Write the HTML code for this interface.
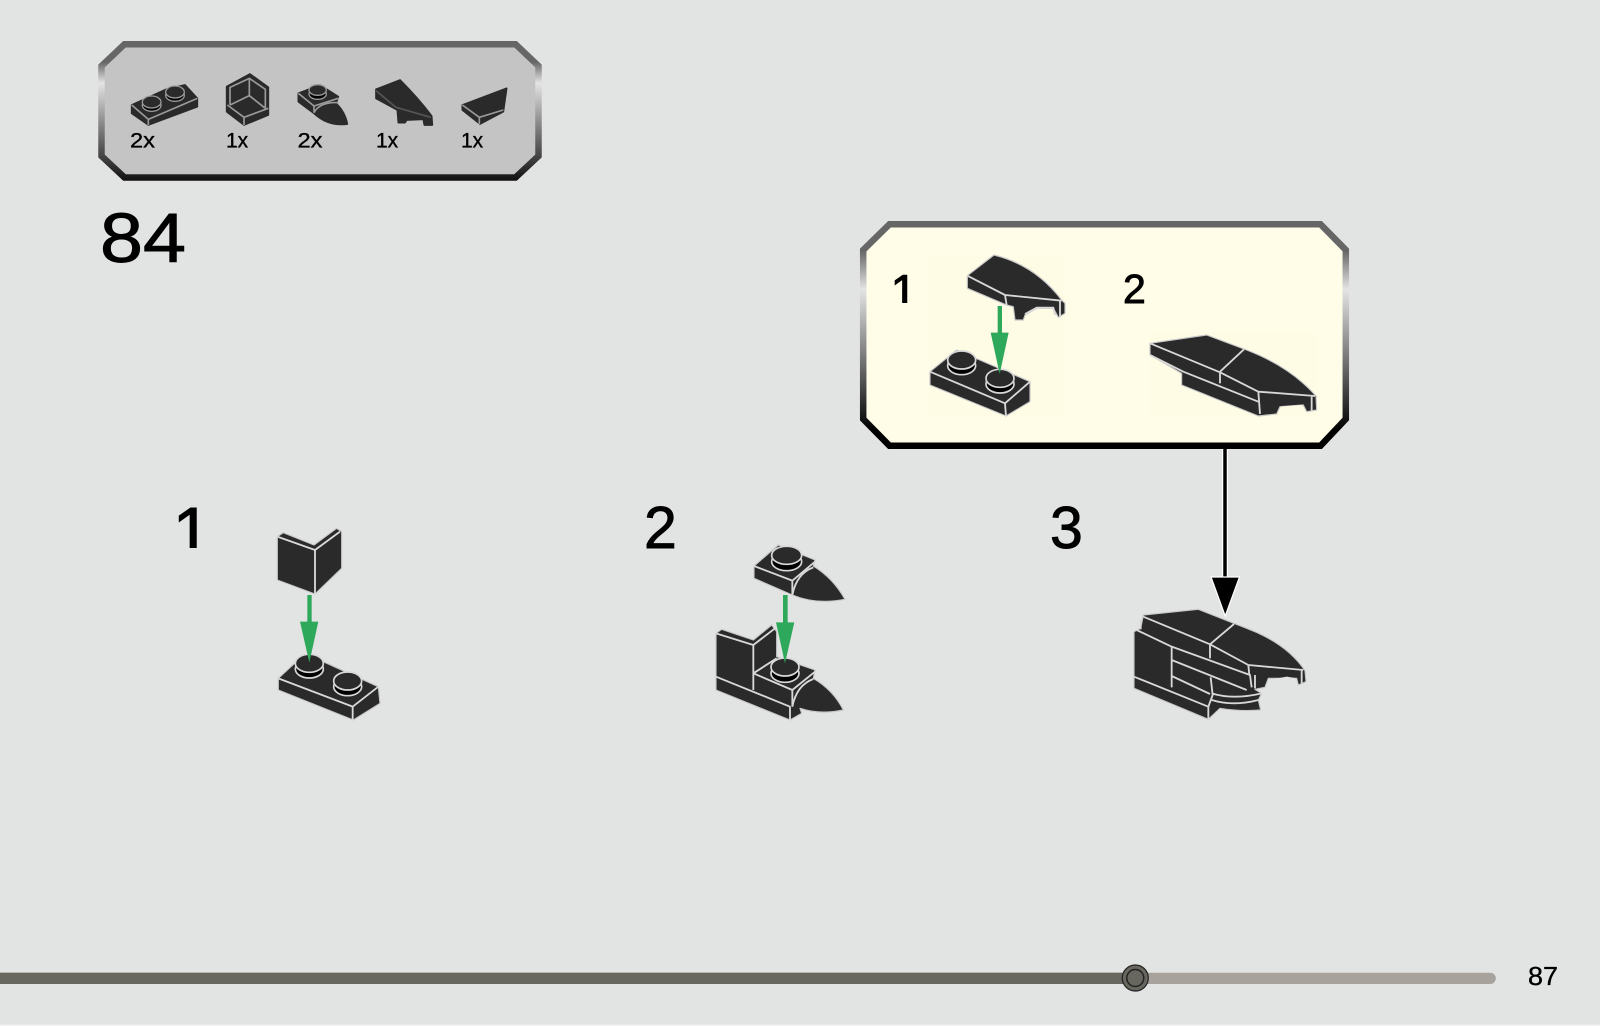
<!DOCTYPE html>
<html lang="en">
<head>
<meta charset="utf-8">
<title>Building instructions page 87</title>
<style>
html,body{margin:0;padding:0;background:#e2e4e3;width:1600px;height:1026px;overflow:hidden}
svg{display:block}
text{font-family:"Liberation Sans",sans-serif;fill:#000}
.b{fill:#2a2a2a;stroke:#c8c8c8;stroke-width:3.5;stroke-linejoin:round}
.l{fill:none;stroke:#d8d8d8;stroke-width:5.5;stroke-linejoin:round}
.s{fill:#2a2a2a;stroke:#d8d8d8;stroke-width:5}
.k{fill:#050505;stroke:#d8d8d8;stroke-width:5}
.g{fill:#2fa85a}
.p .b{stroke:#2a2a2a;stroke-width:5}
.p .l{stroke:#9a9a9a;stroke-width:5}
.p .s{stroke:#9a9a9a;stroke-width:4}
.p .k{stroke:#9a9a9a;stroke-width:4}
.h{stroke:#000;stroke-width:.9}
.m{stroke:#000;stroke-width:.35}
</style>
</head>
<body>
<svg width="1600" height="1026" viewBox="0 0 1600 1026" xmlns="http://www.w3.org/2000/svg">
<defs>
<linearGradient id="f1" gradientUnits="userSpaceOnUse" x1="0" y1="41" x2="0" y2="181">
<stop offset="0" stop-color="#666"/><stop offset=".15" stop-color="#666"/><stop offset=".3" stop-color="#e4e4e4"/><stop offset=".65" stop-color="#777"/><stop offset="1" stop-color="#111"/>
</linearGradient>
<linearGradient id="f2" gradientUnits="userSpaceOnUse" x1="0" y1="221" x2="0" y2="449">
<stop offset="0" stop-color="#666"/><stop offset=".13" stop-color="#666"/><stop offset=".3" stop-color="#e4e4e4"/><stop offset=".65" stop-color="#666"/><stop offset=".92" stop-color="#000"/><stop offset="1" stop-color="#000"/>
</linearGradient>
<filter id="sf" x="-5%" y="-5%" width="110%" height="110%"><feGaussianBlur stdDeviation="0.55"/></filter>
<clipPath id="c1"><rect x="170" y="500" width="40" height="48"/></clipPath>
<clipPath id="c2"><rect x="885" y="268" width="30" height="35"/></clipPath>
</defs>

<rect width="1600" height="1026" fill="#e2e4e3"/>
<rect y="1024.5" width="1600" height="1.5" fill="#f3f3f3"/>

<!-- parts box -->
<polygon points="124.5,44.2 515.5,44.2 538.5,66 538.5,156 515.5,177.5 124.5,177.5 101.5,156 101.5,66" fill="#c4c4c4" stroke="url(#f1)" stroke-width="6.5"/>

<g class="p" transform="translate(90,30) scale(.33333)" filter="url(#sf)">
  <!-- plate -->
  <polygon class="b" points="125,225 228,178 285,165 322,205 322,230 175,285 125,250"/>
  <polyline class="l" points="125,225 175,268 322,205"/><line class="l" x1="175" y1="268" x2="175" y2="285"/>
  <ellipse class="k" cx="185" cy="226" rx="28" ry="18"/><ellipse class="s" cx="185" cy="216" rx="28" ry="18"/>
  <ellipse class="k" cx="255" cy="196" rx="28" ry="18"/><ellipse class="s" cx="255" cy="186" rx="28" ry="18"/>
  <!-- corner panel -->
  <polygon class="b" points="410,170 480,132 535,172 535,255 462,285 410,245"/>
  <polyline class="l" points="420,225 420,172 478,145 526,178 526,235"/>
  <polyline class="l" points="478,145 478,197"/>
  <polyline class="l" points="420,225 478,197 526,235"/>
  <polyline class="l" points="412,225 462,262 535,235"/><line class="l" x1="462" y1="262" x2="462" y2="285"/>
  <!-- nose plate -->
  <path class="b" d="M625,190 L690,165 L745,200 L738,220 Q765,245 772,282 Q715,290 672,250 L625,215 Z"/>
  <polyline class="l" points="625,190 672,228 745,205"/><line class="l" x1="672" y1="228" x2="672" y2="248"/>
  <path class="l" d="M672,248 Q690,215 745,218"/>
  <ellipse class="k" cx="683" cy="192" rx="26" ry="16"/><ellipse class="s" cx="683" cy="180" rx="26" ry="16"/>
  <!-- wedge -->
  <path class="b" d="M858,178 L930,150 Q985,205 1025,258 L1027,285 L1003,285 L1000,268 L950,270 L945,278 L925,278 L922,240 L858,205 Z"/>
  <polyline class="l" points="858,182 918,232 1022,262" style="stroke:#555"/>
  <!-- small wedge -->
  <polygon class="b" points="1117,225 1250,175 1240,245 1170,282 1117,240"/>
  <polyline class="l" points="1117,225 1168,262 1240,240"/><line class="l" x1="1168" y1="262" x2="1168" y2="282"/>
</g>

<text class="m" x="130" y="147.5" font-size="21" textLength="25" lengthAdjust="spacingAndGlyphs">2x</text>
<text class="m" x="226" y="147.5" font-size="21">1x</text>
<text class="m" x="297.5" y="147.5" font-size="21" textLength="25" lengthAdjust="spacingAndGlyphs">2x</text>
<text class="m" x="376" y="147.5" font-size="21">1x</text>
<text class="m" x="461" y="147.5" font-size="21">1x</text>

<text class="h" x="100" y="262" font-size="70" textLength="86" lengthAdjust="spacingAndGlyphs">84</text>

<!-- connector under callout -->
<line x1="1225" y1="449" x2="1225" y2="585" stroke="#fff" stroke-width="6"/>
<line x1="1225" y1="449" x2="1225" y2="585" stroke="#000" stroke-width="3.5"/>
<polygon points="1211,577 1239.5,577 1225.2,616" fill="#000" stroke="#fff" stroke-width="1.2"/>

<!-- callout -->
<polygon points="889.5,224.2 1320.5,224.2 1345.8,250 1345.8,419 1320.5,445.8 889.5,445.8 863.2,419 863.2,250" fill="#fffde8" stroke="url(#f2)" stroke-width="6.5"/>
<text class="h" x="890.5" y="308.5" font-size="48" clip-path="url(#c2)">1</text>
<text class="h" x="1123" y="303" font-size="41">2</text>

<g transform="translate(850,210) scale(.33333)" filter="url(#sf)">
  <rect x="235" y="130" width="410" height="495" fill="#fffce6"/>
  <rect x="900" y="365" width="505" height="260" fill="#fffce6"/>
  <!-- wedge -->
  <path class="b" d="M352,197 L432,135 Q555,165 635,270 L645,280 L645,310 L625,322 L610,295 L560,295 L525,315 L520,330 L495,330 L490,290 L470,285 L352,235 Z"/>
  <polyline class="l" points="352,197 465,255 635,272"/><line class="l" x1="465" y1="255" x2="470" y2="285"/><line class="l" x1="630" y1="272" x2="630" y2="318"/>
  <polyline class="l" points="525,312 560,293 610,293 615,315"/>
  <!-- plate -->
  <polygon class="b" points="240,485 320,420 540,515 540,575 468,618 240,525"/>
  <polyline class="l" points="240,485 465,580 540,515"/><line class="l" x1="465" y1="580" x2="468" y2="618"/>
  <ellipse class="k" cx="335" cy="467" rx="42" ry="27"/><ellipse class="s" cx="335" cy="450" rx="42" ry="27"/>
  <ellipse class="k" cx="450" cy="522" rx="42" ry="27"/><ellipse class="s" cx="450" cy="505" rx="42" ry="27"/>
  <!-- arrow -->
  <rect class="g" x="443" y="288" width="13" height="85"/>
  <polygon class="g" points="422,368 476,368 449,492"/>
  <!-- assembled -->
  <path class="b" d="M900,400 L1070,375 L1190,420 Q1320,470 1398,558 L1400,600 L1370,605 L1360,585 L1290,590 L1280,612 L1225,618 L995,525 L995,490 L900,435 Z"/>
  <polyline class="l" points="900,400 1110,487 1225,545 1395,558"/>
  <polyline class="l" points="1110,485 1182,418"/><line class="l" x1="1110" y1="485" x2="1110" y2="520"/>
  <polyline class="l" points="900,435 1000,485 1225,575"/><line class="l" x1="1225" y1="545" x2="1230" y2="612"/><line class="l" x1="1385" y1="560" x2="1385" y2="602"/>
  <polygon points="1290,598 1295,590 1355,585 1365,606 1345,596 1295,600 1285,612" fill="#fffce6"/>
</g>

<!-- step numbers -->
<text class="h" x="172.5" y="556" font-size="70" clip-path="url(#c1)">1</text>
<text class="h" x="644" y="548" font-size="59">2</text>
<text class="h" x="1050" y="548" font-size="59">3</text>

<!-- step 1 -->
<g transform="translate(160,490) scale(.33333)" filter="url(#sf)">
  <polygon class="b" points="352,140 370,128 462,165 530,115 545,125 545,235 465,312 352,270"/>
  <polyline class="l" points="352,140 465,180 540,125"/><line class="l" x1="465" y1="180" x2="465" y2="312"/>
  <polygon class="b" points="355,565 420,505 490,515 655,590 660,640 580,690 355,600"/>
  <polyline class="l" points="355,565 578,650 655,590"/><line class="l" x1="578" y1="650" x2="578" y2="690"/>
  <ellipse class="k" cx="448" cy="537" rx="42" ry="27"/><ellipse class="s" cx="448" cy="520" rx="42" ry="27"/>
  <ellipse class="k" cx="563" cy="590" rx="42" ry="27"/><ellipse class="s" cx="563" cy="573" rx="42" ry="27"/>
  <rect class="g" x="442" y="315" width="13" height="85"/>
  <polygon class="g" points="420,395 475,395 448,518"/>
</g>

<!-- step 2 -->
<g transform="translate(630,490) scale(.33333)" filter="url(#sf)">
  <path class="b" d="M372,228 L445,165 L555,210 L550,228 Q610,265 645,328 Q560,345 487,315 L372,265 Z"/>
  <polyline class="l" points="372,228 487,272 555,215"/><line class="l" x1="487" y1="272" x2="487" y2="315"/>
  <path class="l" d="M487,315 Q500,250 550,232"/>
  <ellipse class="k" cx="470" cy="215" rx="45" ry="27"/><ellipse class="s" cx="470" cy="196" rx="45" ry="27"/>
  <path class="b" d="M258,430 L275,418 L370,450 L425,405 L440,425 L440,500 L555,540 L550,565 Q610,600 640,660 Q570,675 510,655 L515,670 L480,690 L258,600 Z"/>
  <polyline class="l" points="258,430 370,465 435,415"/><line class="l" x1="370" y1="465" x2="370" y2="600"/>
  <polyline class="l" points="258,560 480,650 480,690"/>
  <polyline class="l" points="370,550 487,600 555,545"/><line class="l" x1="487" y1="600" x2="487" y2="650"/>
  <line class="l" x1="370" y1="550" x2="440" y2="505"/>
  <path class="l" d="M487,650 Q500,585 550,567"/>
  <ellipse class="k" cx="465" cy="550" rx="42" ry="27"/><ellipse class="s" cx="465" cy="531" rx="42" ry="27"/>
  <rect class="g" x="459" y="315" width="14" height="85"/>
  <polygon class="g" points="438,397 493,397 465,520"/>
</g>

<!-- step 3 -->
<g transform="translate(1130,600) scale(.33333)" filter="url(#sf)">
  <path class="b" d="M40,45 L205,28 Q300,65 350,85 Q470,130 525,212 L528,245 L505,255 L500,235 L415,235 L405,262 L375,268 L395,280 L385,300 L392,330 Q330,335 270,325 L235,358 L12,265 L12,95 L32,85 Z"/>
  <polyline class="l" points="40,50 240,133 355,195 520,210"/>
  <polyline class="l" points="20,90 125,140 360,225 365,262"/>
  <line class="l" x1="240" y1="133" x2="312" y2="72"/>
  <line class="l" x1="240" y1="133" x2="240" y2="175"/>
  <line class="l" x1="32" y1="60" x2="32" y2="88"/>
  <line class="l" x1="125" y1="140" x2="125" y2="262"/>
  <line class="l" x1="125" y1="180" x2="350" y2="270"/>
  <line class="l" x1="125" y1="228" x2="240" y2="282"/>
  <polyline class="l" points="12,230 235,320 235,358"/>
  <line class="l" x1="355" y1="195" x2="358" y2="225"/>
  <polyline class="l" points="242,232 248,285 235,320"/>
  <path class="l" d="M245,280 Q310,300 395,280"/>
  <path class="l" d="M245,300 Q310,320 385,300"/>
  <line class="l" x1="375" y1="225" x2="375" y2="265"/>
  <line class="l" x1="515" y1="212" x2="515" y2="250"/>
  <polygon points="408,260 415,240 470,230 495,234 498,252 470,238 420,248" fill="#e2e4e3"/>
</g>

<!-- progress bar -->
<rect x="-10" y="972.7" width="1505.8" height="11.3" rx="5.6" fill="#a8a29c"/>
<rect x="-10" y="972.7" width="1145" height="11.3" fill="#68675f"/>
<circle cx="1135.3" cy="978" r="13" fill="#68675f" stroke="#222" stroke-width="1.2"/>
<circle cx="1135.3" cy="978" r="8.5" fill="#68675f" stroke="#222" stroke-width="1.5"/>
<text class="m" x="1528" y="985" font-size="26" textLength="30" lengthAdjust="spacingAndGlyphs">87</text>
</svg>
</body>
</html>
